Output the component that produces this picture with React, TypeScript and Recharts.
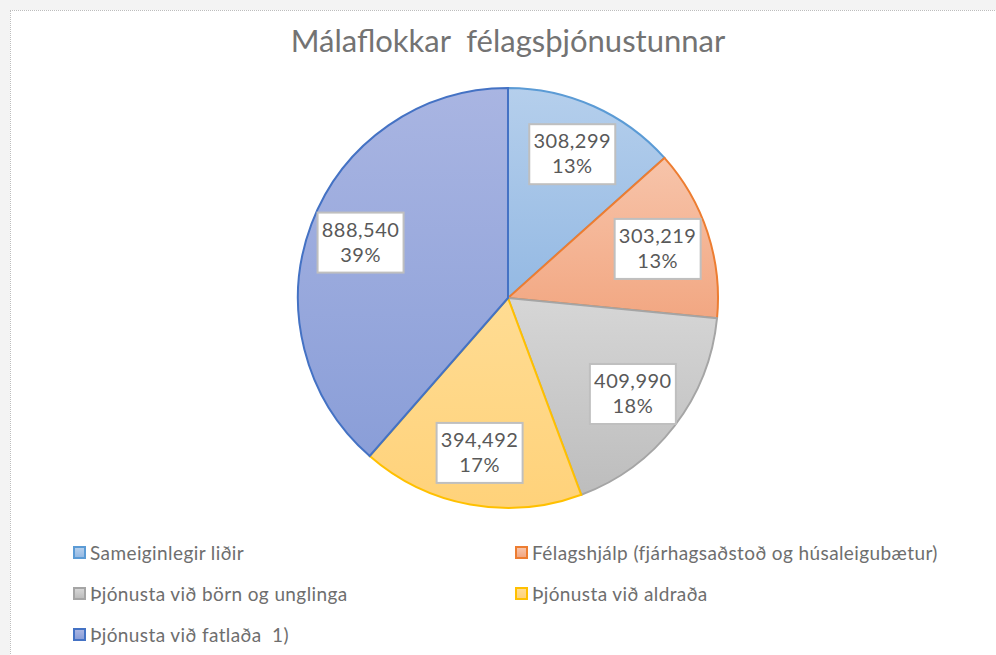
import { PieChart, Pie, Cell } from 'recharts'

// categories + values
const CATEGORIES = [
  'Sameiginlegir liðir',
  'Félagshjálp (fjárhagsaðstoð og húsaleigubætur)',
  'Þjónusta við börn og unglinga',
  'Þjónusta við aldraða',
  'Þjónusta við fatlaða  1)',
]
const VALUES = [308299, 303219, 409990, 394492, 888540]

const STROKES = ['#5B9BD5', '#ED7D31', '#A5A5A5', '#FFC000', '#4472C4']
const GRAD_TOP = ['#B5CFEC', '#F7C4AA', '#D6D6D6', '#FFDC93', '#A9B5E2']
const GRAD_BOTTOM = ['#94B9E3', '#F2A782', '#BDBDBD', '#FFD27A', '#8A9ED8']

const data = CATEGORIES.map((name, i) => ({ name, value: VALUES[i] }))

const RADIAN = Math.PI / 180
const FONT = 'Lato, "Open Sans", sans-serif'
const TEXT = '#595959'

function renderLabel(props: any) {
  const { cx, cy, midAngle, outerRadius, percent, value } = props
  const r = outerRadius * 0.75
  const x = cx + r * Math.cos(-midAngle * RADIAN)
  const y = cy + r * Math.sin(-midAngle * RADIAN)
  const w = 86
  const h = 60
  return (
    <g>
      <rect x={x - w / 2} y={y - h / 2} width={w} height={h} fill="#fff" stroke="#BFBFBF" strokeWidth={2} />
      <text x={x} y={y - 11} textAnchor="middle" fontSize={20} letterSpacing={0.5} fill={TEXT} fontFamily={FONT} dominantBaseline="middle">
        {value.toLocaleString('en-US')}
      </text>
      <text x={x} y={y + 14} textAnchor="middle" fontSize={20} letterSpacing={0.5} fill={TEXT} fontFamily={FONT} dominantBaseline="middle">
        {Math.round(percent * 100)}%
      </text>
    </g>
  )
}

function LegendBox() {
  const cols = [73, 515]
  return (
    <div style={{ position: 'absolute', left: 0, top: 541, width: 996, height: 110 }}>
      {CATEGORIES.map((name, i) => (
        <div
          key={name}
          style={{
            position: 'absolute',
            left: cols[i % 2],
            top: Math.floor(i / 2) * 41,
            display: 'flex',
            alignItems: 'center',
            gap: 4,
            fontFamily: FONT,
            fontSize: 19,
            letterSpacing: 0.4,
            color: '#6E6E6E',
            whiteSpace: 'pre',
          }}
        >
          <span
            style={{
              display: 'inline-block',
              width: 9,
              height: 9,
              border: `2px solid ${STROKES[i]}`,
              background: `linear-gradient(${GRAD_TOP[i]}, ${GRAD_BOTTOM[i]})`,
            }}
          />
          {name}
        </div>
      ))}
    </div>
  )
}

export default function App() {
  return (
    <div style={{ position: 'absolute', left: 0, top: 0, width: 996, height: 655, background: '#F3F3F3', overflow: 'hidden' }}>
      <div
        style={{
          position: 'absolute',
          left: 10,
          top: 10,
          width: 996,
          height: 655,
          background: '#fff',
          borderLeft: '1px dotted #BDBDBD',
          borderTop: '1px dotted #BDBDBD',
        }}
      />
      <div
        style={{
          position: 'absolute',
          left: 0,
          top: 21,
          width: 1016,
          textAlign: 'center',
          fontFamily: FONT,
          fontSize: 31,
          color: '#737373',
          whiteSpace: 'pre',
        }}
      >
        {'Málaflokkar  félagsþjónustunnar'}
      </div>
      <div style={{ position: 'absolute', left: 0, top: 0 }}>
        <PieChart width={996} height={655} margin={{ top: 0, right: 0, bottom: 0, left: 0 }}>
          <defs>
            {STROKES.map((_, i) => (
              <linearGradient key={i} id={`grad${i}`} x1="0" y1="0" x2="0" y2="1">
                <stop offset="0%" stopColor={GRAD_TOP[i]} />
                <stop offset="100%" stopColor={GRAD_BOTTOM[i]} />
              </linearGradient>
            ))}
          </defs>
          <Pie
            data={data}
            dataKey="value"
            nameKey="name"
            cx={508}
            cy={298}
            outerRadius={210}
            startAngle={90}
            endAngle={-270}
            label={renderLabel}
            labelLine={false}
            isAnimationActive={false}
          >
            {data.map((d, i) => (
              <Cell key={d.name} fill={`url(#grad${i})`} stroke={STROKES[i]} strokeWidth={2} />
            ))}
          </Pie>
        </PieChart>
      </div>
      <LegendBox />
    </div>
  )
}
